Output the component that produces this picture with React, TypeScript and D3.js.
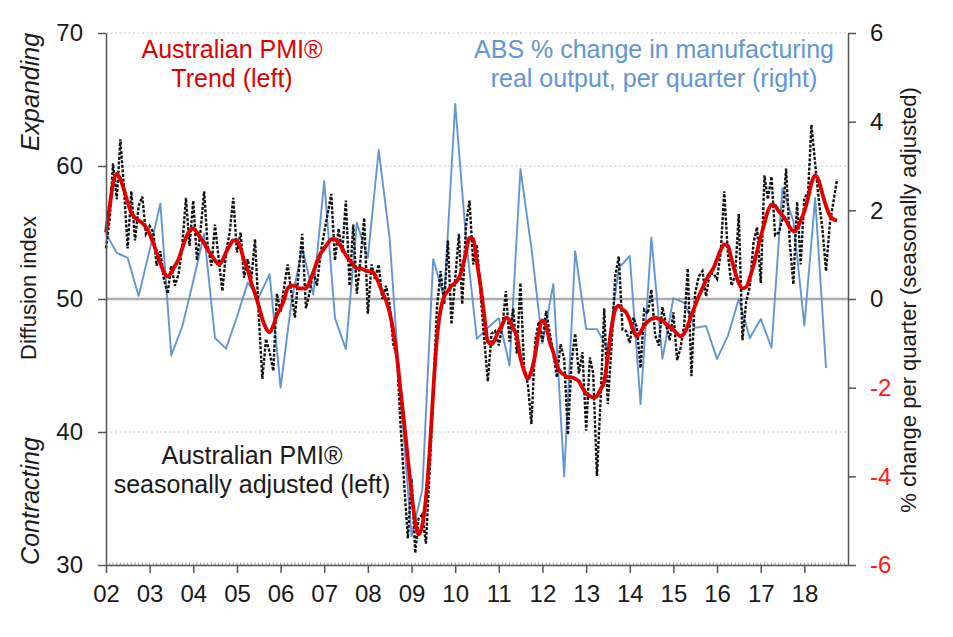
import React, { useRef, useEffect } from 'react';
import * as d3 from 'd3';

// monthly, Jan 2002 .. Oct 2018
const pmiSeasonal = [
  53.8, 56.0, 60.2, 57.5, 62.0, 58.3, 53.8, 58.1, 54.4, 57.0, 57.7, 54.9,
  55.5, 55.0, 52.5, 53.6, 51.5, 50.4, 52.5, 51.0, 51.9, 54.0, 57.6, 54.0,
  57.4, 52.9, 55.0, 58.1, 54.0, 52.5, 55.6, 53.0, 50.6, 53.5, 55.0, 57.6,
  53.5, 55.0, 51.6, 53.0, 51.5, 54.5, 49.0, 44.0, 47.0, 46.0, 44.6, 50.4,
  49.0, 51.0, 52.6, 50.5, 48.6, 52.0, 54.9, 49.3, 50.5, 52.1, 51.0, 53.4,
  55.0, 56.5, 57.9, 52.9, 55.3, 53.5, 57.4, 51.0, 55.6, 50.4, 53.0, 56.1,
  48.9, 52.6, 51.5, 52.6, 50.0, 51.0, 49.6, 46.6, 45.7, 40.5, 36.0, 32.0,
  36.5, 30.9, 33.5, 33.8, 31.6, 37.0, 43.0, 49.3, 52.1, 49.6, 54.4, 48.1,
  51.5, 54.9, 49.6, 55.5, 57.4, 52.6, 54.1, 50.5, 47.0, 43.8, 47.4, 47.6,
  46.5, 48.0, 50.6, 46.8, 49.3, 45.9, 51.2, 44.8, 43.6, 40.6, 46.8, 48.3,
  46.8, 49.1, 47.5, 45.9, 44.1, 46.6, 45.5, 39.8, 45.3, 47.4, 44.4, 46.0,
  40.1, 45.6, 44.4, 36.7, 42.3, 49.3, 42.1, 46.4, 51.7, 53.2, 47.7, 47.6,
  46.7, 48.6, 47.9, 44.8, 49.2, 48.9, 50.7, 47.3, 46.5, 49.4, 48.1, 46.9,
  49.0, 45.4, 46.3, 48.0, 52.3, 44.2, 50.4, 51.7, 52.1, 50.2, 51.9, 51.9,
  51.5, 53.5, 58.1, 53.4, 51.0, 51.8, 56.4, 46.9, 49.8, 50.9, 54.2, 55.4,
  51.2, 59.3, 57.5, 59.2, 54.8, 55.0, 56.0, 59.8, 54.2, 51.1, 57.3, 52.6,
  57.6, 58.0, 63.1, 60.2, 57.5, 55.3, 52.1, 55.6, 57.3, 59.0,
];

const pmiTrend = [
  55.0, 57.0, 58.7, 59.4, 59.0, 58.2, 57.3, 56.5, 56.1, 55.9, 55.7, 55.4,
  54.9, 54.2, 53.5, 52.7, 52.0, 51.7, 52.0, 52.5, 53.0, 53.8, 54.6, 55.1,
  55.3, 55.0, 54.6, 54.2, 53.7, 53.3, 52.9, 52.6, 52.9, 53.5, 54.0, 54.4,
  54.4, 53.8, 52.9, 52.2, 51.2, 50.4, 49.5, 48.5, 47.8, 47.5, 48.0, 48.8,
  49.3, 50.0, 50.8, 51.0, 51.0, 50.8, 50.8, 50.8, 51.3, 52.0, 52.8, 53.4,
  53.8, 54.2, 54.5, 54.5, 54.2, 53.8, 53.3, 52.9, 52.6, 52.3, 52.3, 52.2,
  52.1, 52.1, 51.8, 51.2, 50.5, 49.9, 49.0, 47.6, 45.6, 43.1, 40.6, 38.0,
  35.4, 33.2, 32.3, 33.0, 35.0, 38.5, 43.0, 47.0, 49.2, 50.2, 50.6, 51.0,
  51.2, 51.6, 52.3, 53.5, 54.6, 54.5, 52.8, 51.0, 48.8, 46.8, 46.6, 47.0,
  47.6, 48.1, 48.6, 48.4, 47.8, 47.2, 45.6, 44.6, 44.0, 44.6, 45.8, 47.5,
  48.4, 48.0, 46.8, 46.0, 45.0, 44.5, 44.3, 44.1, 44.1, 44.0, 43.8, 43.3,
  42.9, 42.7, 42.6, 42.7, 43.2, 43.8, 45.7, 47.8, 49.2, 49.5, 49.2, 49.0,
  48.4, 47.6, 47.2, 47.5, 48.0, 48.3, 48.5, 48.6, 48.5, 48.4, 48.1, 47.9,
  47.7, 47.4, 47.2, 47.4, 48.0, 48.8, 49.5, 50.2, 50.8, 51.4, 51.9, 52.3,
  53.0, 53.7, 54.1, 54.0, 53.0, 52.0, 51.2, 50.8, 50.9, 51.6, 52.5, 53.6,
  54.7, 55.7, 56.6, 57.1, 57.0, 56.6, 56.3, 55.9, 55.4, 55.1, 55.3, 55.9,
  56.6, 57.6, 58.7, 59.3, 58.9, 57.9, 57.0, 56.3, 56.0, 55.9,
];

// quarterly, 2002 Q1 .. 2018 Q3
const absOutput = [
  1.48, 1.04, 0.93, 0.07, 1.1, 2.15, -1.27, -0.62, 0.4, 1.47, -0.88, -1.12,
  -0.4, 0.37, 0.03, 0.56, -2.0, -0.08, 1.15, 0.1, 2.66, -0.43, -1.13, 1.72,
  0.93, 3.36, 1.38, -2.2, -5.35, -4.3, 0.9, 0.02, 4.4, 1.38, -0.9, -0.65,
  -0.43, -1.5, 2.93, 1.15, -1.0, 0.34, -4.0, 1.08, -0.68, -0.68, -1.13, 0.7,
  0.97, -2.37, 1.38, -1.35, 0.02, -0.09, -0.65, -0.61, -1.35, -0.83, 0.0, -0.88,
  -0.45, -1.1, 2.5, 1.76, -0.6, 2.28, -1.56,
];

const years = [2002, 2003, 2004, 2005, 2006, 2007, 2008, 2009, 2010, 2011, 2012, 2013, 2014, 2015, 2016, 2017, 2018];
const yearLabels = ['02', '03', '04', '05', '06', '07', '08', '09', '10', '11', '12', '13', '14', '15', '16', '17', '18'];
const leftTicks = [30, 40, 50, 60, 70];
const rightTicks = [-6, -4, -2, 0, 2, 4, 6];

const FONT = '"Liberation Sans", Arial, sans-serif';
const RED = '#e00000';
const BLUE = '#6395d6';

const App: React.FC = () => {
  const svgRef = useRef<SVGSVGElement>(null);

  useEffect(() => {
    const svg = d3.select(svgRef.current);
    svg.selectAll('*').remove();

    const margin = { top: 33, right: 105, bottom: 72, left: 106 };
    const width = 953 - margin.left - margin.right;
    const height = 637 - margin.top - margin.bottom;

    const g = svg.append('g').attr('transform', `translate(${margin.left},${margin.top})`);

    const x = d3.scaleTime()
      .domain([new Date(2002, 0, 1), new Date(2019, 0, 1)])
      .range([0, width]);
    const yLeft = d3.scaleLinear().domain([30, 70]).range([height, 0]);
    const yRight = d3.scaleLinear().domain([-6, 6]).range([height, 0]);

    // grid lines
    [40, 60, 70].forEach((v) => {
      g.append('line')
        .attr('x1', 0).attr('x2', width)
        .attr('y1', yLeft(v)).attr('y2', yLeft(v))
        .attr('stroke', '#c4c4c4')
        .attr('stroke-width', 1)
        .attr('stroke-dasharray', '2,2.5');
    });
    g.append('line')
      .attr('x1', 0).attr('x2', width)
      .attr('y1', yLeft(50)).attr('y2', yLeft(50))
      .attr('stroke', '#acacac')
      .attr('stroke-width', 2.5);

    const monthDate = (i: number) => new Date(2002, i, 1);
    const quarterDate = (i: number) => new Date(2002, i * 3, 1);

    // ABS quarterly output (right axis)
    const absLine = d3.line<number>()
      .x((d, i) => x(quarterDate(i)))
      .y((d) => yRight(d));
    g.append('path')
      .datum(absOutput)
      .attr('fill', 'none')
      .attr('stroke', BLUE)
      .attr('stroke-width', 1.9)
      .attr('stroke-linejoin', 'round')
      .attr('d', absLine);

    // PMI seasonally adjusted
    const pmiLine = d3.line<number>()
      .x((d, i) => x(monthDate(i)))
      .y((d) => yLeft(d));
    g.append('path')
      .datum(pmiSeasonal)
      .attr('fill', 'none')
      .attr('stroke', '#111')
      .attr('stroke-width', 2.4)
      .attr('stroke-dasharray', '3,1.6')
      .attr('d', pmiLine);

    // PMI trend
    const trendLine = d3.line<number>()
      .x((d, i) => x(monthDate(i)))
      .y((d) => yLeft(d))
      .curve(d3.curveMonotoneX);
    g.append('path')
      .datum(pmiTrend)
      .attr('fill', 'none')
      .attr('stroke', RED)
      .attr('stroke-width', 3.8)
      .attr('stroke-linejoin', 'round')
      .attr('d', trendLine);

    const styleAxis = (sel: d3.Selection<SVGGElement, unknown, null, undefined>) => {
      sel.select('.domain').attr('stroke', '#555').attr('stroke-width', 1.5);
      sel.selectAll('.tick line').attr('stroke', '#555').attr('stroke-width', 1.5);
      sel.selectAll('.tick text')
        .attr('font-family', FONT)
        .attr('font-size', 24)
        .attr('fill', '#1a1a1a');
    };

    // left axis
    const leftAxis = g.append('g')
      .call(d3.axisLeft(yLeft).tickValues(leftTicks).tickSize(8).tickSizeOuter(0).tickPadding(15));
    styleAxis(leftAxis);

    // right axis
    const rightAxis = g.append('g')
      .attr('transform', `translate(${width},0)`)
      .call(d3.axisRight(yRight).tickValues(rightTicks).tickSize(8).tickSizeOuter(0).tickPadding(14)
        .tickFormat((d) => String(d)));
    styleAxis(rightAxis);
    rightAxis.selectAll<SVGTextElement, number>('.tick text')
      .attr('fill', (d) => (d < 0 ? '#ff1a1a' : '#1a1a1a'));

    // minor month ticks on bottom axis
    g.append('g')
      .selectAll('line')
      .data(d3.range(0, 204))
      .join('line')
      .attr('x1', (d) => x(monthDate(d)))
      .attr('x2', (d) => x(monthDate(d)))
      .attr('y1', height)
      .attr('y2', height - 2.5)
      .attr('stroke', '#999')
      .attr('stroke-width', 1);

    // bottom axis
    const bottomAxis = g.append('g')
      .attr('transform', `translate(0,${height})`)
      .call(d3.axisBottom(x)
        .tickValues(years.map((yr) => new Date(yr, 0, 1)))
        .tickSize(8).tickSizeOuter(0).tickPadding(12)
        .tickFormat((d, i) => yearLabels[i]));
    styleAxis(bottomAxis);

    // in-chart labels
    const addText = (lines: string[], cx: number, y0: number, color: string) => {
      lines.forEach((t, i) => {
        svg.append('text')
          .attr('x', cx)
          .attr('y', y0 + i * 28.5)
          .attr('text-anchor', 'middle')
          .attr('font-family', FONT)
          .attr('font-size', 25)
          .attr('fill', color)
          .text(t);
      });
    };
    addText(['Australian PMI®', 'Trend (left)'], 232, 58, RED);
    addText(['ABS % change in manufacturing', 'real output, per quarter (right)'], 654, 58, BLUE);
    addText(['Australian PMI®', 'seasonally adjusted (left)'], 252, 464, '#1a1a1a');

    const addRotated = (t: string, tx: number, ty: number, size: number, italic: boolean) => {
      svg.append('text')
        .attr('transform', `translate(${tx},${ty}) rotate(-90)`)
        .attr('text-anchor', 'middle')
        .attr('font-family', FONT)
        .attr('font-size', size)
        .attr('font-style', italic ? 'italic' : 'normal')
        .attr('fill', '#1a1a1a')
        .text(t);
    };
    addRotated('Expanding', 39, 92, 25, true);
    addRotated('Contracting', 39, 501, 25, true);
    addRotated('Diffusion index', 36, 288, 22, false);
    addRotated('% change per quarter (seasonally adjusted)', 916, 300, 22, false);
  }, []);

  return (
    <svg
      ref={svgRef}
      width={953}
      height={637}
      style={{ position: 'absolute', left: 0, top: 0, background: '#fff' }}
    />
  );
};

export default App;
